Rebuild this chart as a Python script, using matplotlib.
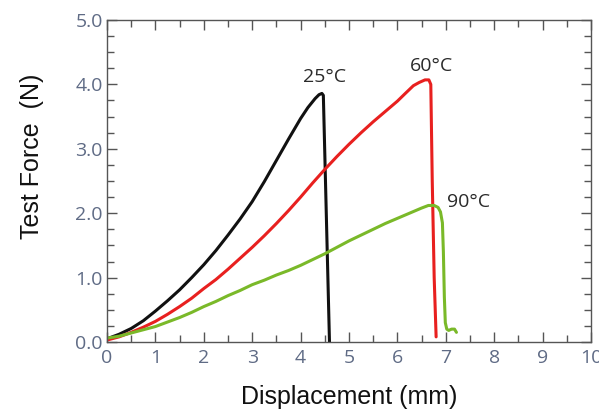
import matplotlib
matplotlib.use("Agg")
import matplotlib.pyplot as plt
from matplotlib.ticker import MultipleLocator

# 25°C curve
x25 = [0.0, 0.25, 0.5, 0.75, 1.0, 1.25, 1.5, 1.75, 2.0, 2.25, 2.5, 2.75, 3.0, 3.25, 3.5,
       3.75, 4.0, 4.15, 4.3, 4.38, 4.44, 4.47, 4.6]
y25 = [0.05, 0.12, 0.21, 0.33, 0.48, 0.64, 0.81, 1.00, 1.20, 1.42, 1.66, 1.91, 2.18, 2.49, 2.82,
       3.15, 3.47, 3.64, 3.78, 3.84, 3.86, 3.83, -0.1]

# 60°C curve
x60 = [0.0, 0.25, 0.5, 0.75, 1.0, 1.25, 1.5, 1.75, 2.0, 2.25, 2.5, 2.75, 3.0, 3.25, 3.5,
       3.75, 4.0, 4.25, 4.5, 4.75, 5.0, 5.25, 5.5, 5.75, 6.0, 6.15, 6.33, 6.45, 6.57,
       6.65, 6.69, 6.72, 6.76, 6.80]
y60 = [0.03, 0.08, 0.15, 0.23, 0.32, 0.43, 0.55, 0.68, 0.83, 0.97, 1.13, 1.30, 1.47, 1.65, 1.84,
       2.04, 2.25, 2.47, 2.68, 2.88, 3.07, 3.25, 3.42, 3.58, 3.74, 3.85, 3.98, 4.03, 4.07,
       4.07, 4.00, 2.50, 1.00, 0.08]

# 90°C curve
x90 = [0.0, 0.25, 0.5, 0.75, 1.0, 1.25, 1.5, 1.75, 2.0, 2.25, 2.5, 2.75, 3.0, 3.25, 3.5,
       3.75, 4.0, 4.25, 4.5, 4.75, 5.0, 5.25, 5.5, 5.75, 6.0, 6.25, 6.5, 6.64, 6.76,
       6.84, 6.89, 6.93, 6.95, 6.97, 6.99, 7.02, 7.06, 7.12, 7.18, 7.22]
y90 = [0.06, 0.09, 0.14, 0.19, 0.24, 0.31, 0.38, 0.46, 0.55, 0.63, 0.72, 0.80, 0.89, 0.96, 1.04,
       1.11, 1.19, 1.28, 1.37, 1.47, 1.57, 1.66, 1.75, 1.84, 1.92, 2.00, 2.08, 2.12, 2.12,
       2.09, 2.02, 1.85, 1.40, 0.70, 0.30, 0.20, 0.18, 0.20, 0.20, 0.15]

labels = ["25°C", "60°C", "90°C"]
label_pos = [(4.50, 4.11), (6.70, 4.29), (7.47, 2.17)]
colors = ["#111111", "#e8201f", "#7ab929"]

xticks = [0, 1, 2, 3, 4, 5, 6, 7, 8, 9, 10]
yticks = [0.0, 1.0, 2.0, 3.0, 4.0, 5.0]

fig = plt.figure(figsize=(5.99, 4.12), dpi=100)
ax = fig.add_axes([107/599, 1 - 342/412, 484/599, 322/412])

for xs, ys, c in zip([x25, x60, x90], [y25, y60, y90], colors):
    ax.plot(xs, ys, color=c, lw=2.2, solid_joinstyle="round", solid_capstyle="round")

for t, (tx, ty) in zip(labels, label_pos):
    ax.text(tx, ty, t, ha="center", va="center", fontsize=14, family="Open Sans", color="#2a2a2a")

ax.set_xlim(0, 10)
ax.set_ylim(0, 5)
ax.set_xticks(xticks)
ax.set_xticklabels([str(v) for v in xticks])
ax.set_yticks(yticks)
ax.set_yticklabels([f"{v:.1f}" for v in yticks])
ax.xaxis.set_minor_locator(MultipleLocator(0.5))
ax.yaxis.set_minor_locator(MultipleLocator(0.25))

tick_col = "#5f6b85"
ax.tick_params(which="both", direction="in", top=True, right=True, color="#555555", width=1.0)
ax.tick_params(which="major", length=7)
ax.tick_params(which="minor", length=5)
ax.tick_params(axis="x", which="major", pad=5)
ax.tick_params(axis="y", which="major", pad=3)
for lab in ax.get_xticklabels() + ax.get_yticklabels():
    lab.set_family("Open Sans")
    lab.set_fontsize(14)
    lab.set_color(tick_col)

for s in ax.spines.values():
    s.set_color("#555555")
    s.set_linewidth(1.0)

ax.set_xlabel("Displacement (mm)", fontsize=18, family="Liberation Sans", color="#111111")
ax.set_ylabel("Test Force  (N)", fontsize=18, family="Liberation Sans", color="#111111")
ax.xaxis.set_label_coords(0.5, -0.171)
ax.yaxis.set_label_coords(-0.155, 0.578)
ax.xaxis.label.set_va("center")
ax.yaxis.label.set_va("center")

fig.savefig("out.png", dpi=100)
